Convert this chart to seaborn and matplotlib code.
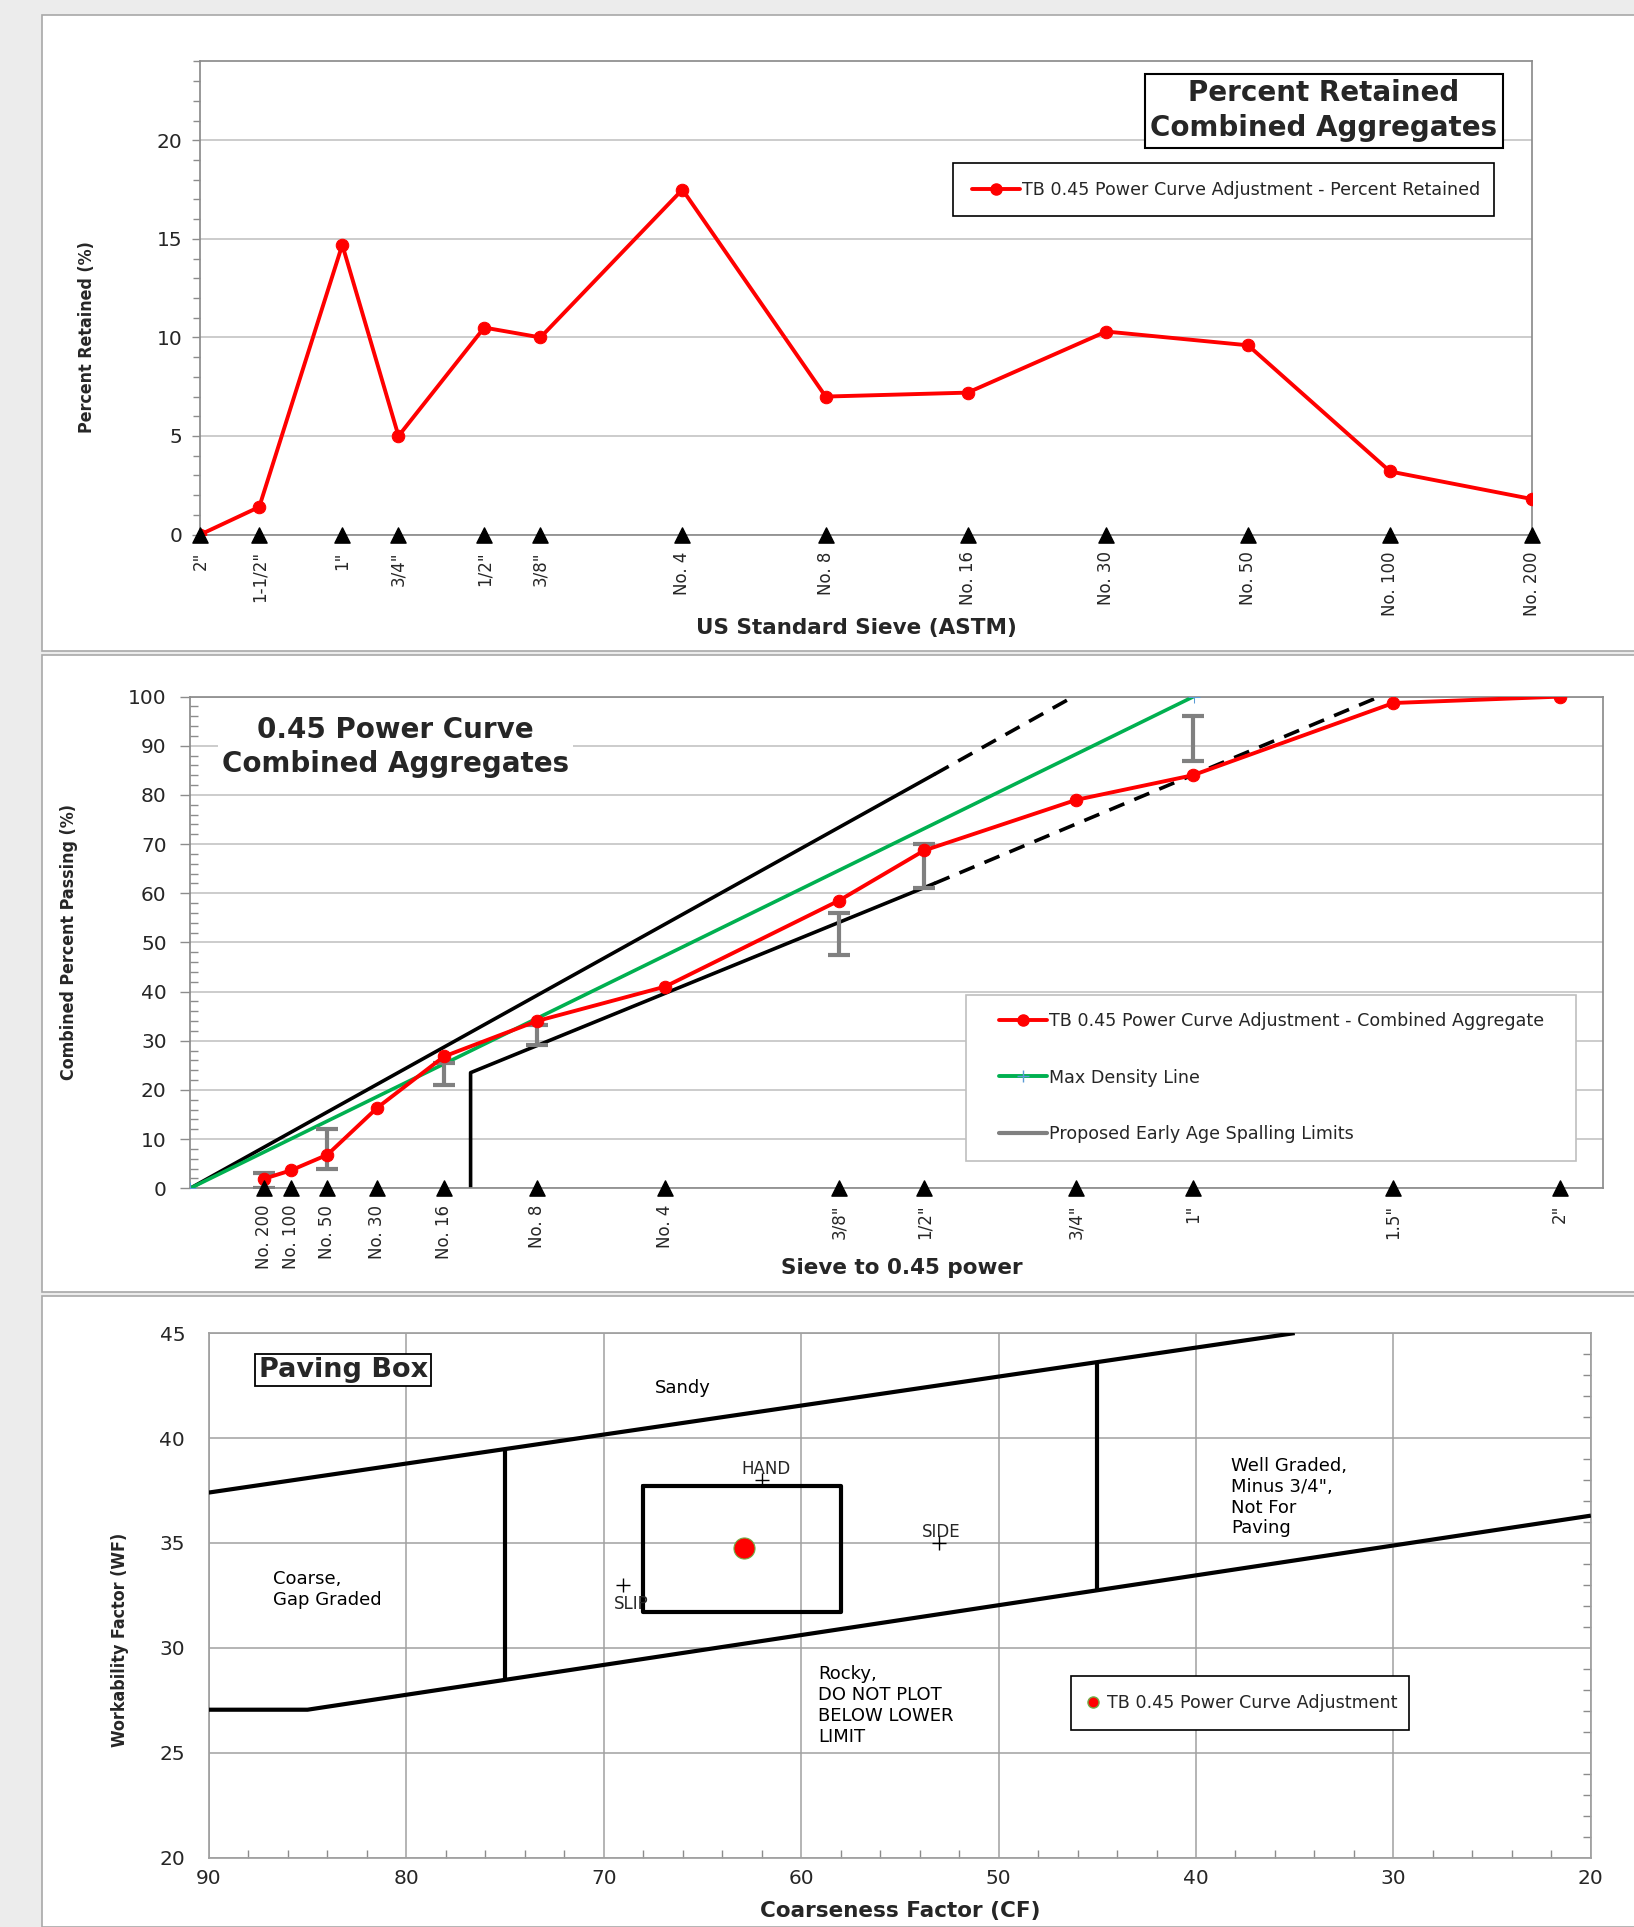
import matplotlib
matplotlib.use('Agg')
import matplotlib.pyplot as plt
import matplotlib.patches as mpatches
from matplotlib.lines import Line2D
from matplotlib.ticker import MultipleLocator, FixedLocator, NullLocator
import seaborn as sns

# ---- data ----
# sieves, coarse to fine
sieve_labels = ['2"', '1-1/2"', '1"', '3/4"', '1/2"', '3/8"', 'No. 4', 'No. 8',
                'No. 16', 'No. 30', 'No. 50', 'No. 100', 'No. 200']
sieve_labels_045 = ['2"', '1.5"', '1"', '3/4"', '1/2"', '3/8"', 'No. 4', 'No. 8',
                    'No. 16', 'No. 30', 'No. 50', 'No. 100', 'No. 200']
sieve_mm = [50, 37.5, 25, 19, 12.5, 9.5, 4.75, 2.36, 1.18, 0.6, 0.3, 0.15, 0.075]

pct_retained = [0.0, 1.4, 14.7, 5.0, 10.5, 10.0, 17.5, 7.0, 7.2, 10.3, 9.6, 3.2, 1.8]
pct_passing = [100.0, 98.7, 84.0, 79.0, 68.7, 58.5, 41.0, 34.0, 26.8, 16.4, 6.8, 3.6, 1.9]

# max density line (sieve^0.45 vs % passing)
max_density_x = [0.0, 4.26]
max_density_y = [0.0, 100.0]

# control lines on the 0.45 chart
upper_solid_x = [0.0, 3.16]
upper_solid_y = [0.0, 84.2]
upper_dash_x = [3.16, 3.75]
upper_dash_y = [84.2, 100.0]
lower_solid_x = [1.19, 1.19, 3.16]
lower_solid_y = [0.0, 23.5, 62.0]
lower_dash_x = [3.16, 5.05]
lower_dash_y = [62.0, 100.0]

# proposed early age spalling limits
spall_mm = [0.075, 0.3, 1.18, 2.36, 9.5, 12.5, 25]
spall_low = [0.0, 4.0, 21.0, 29.2, 47.5, 61.0, 87.0]
spall_high = [3.0, 12.0, 25.4, 33.2, 56.0, 70.0, 96.0]

# paving box (coarseness factor vs workability factor)
upper_trend_cf = [90, 35]
upper_trend_wf = [37.4, 45.0]
lower_trend_cf = [90, 85, 20]
lower_trend_wf = [27.05, 27.05, 36.3]
divider_cf = [75, 45]
divider_low = [28.45, 32.7]
divider_high = [39.45, 43.6]
box_cf = [68, 58, 58, 68, 68]
box_wf = [37.7, 37.7, 31.7, 31.7, 37.7]
method_names = ['HAND', 'SLIP', 'SIDE']
method_cf = [62, 69, 53]
method_wf = [38.0, 33.0, 35.0]
mix_cf = [62.9]
mix_wf = [34.75]

# ---- style ----
sns.set_theme(style='white')
plt.rcParams['font.family'] = ['DejaVu Sans']
YLAB = dict(fontsize=12.8, fontweight='bold', fontstretch='condensed')
XLAB = dict(fontsize=15.5, fontweight='bold')
GRID = '#c4c4c4'
SPINE = '#8c8c8c'
TICK = 14.5
ROT = 12


def legend_frame(ax, x0, y0, x1, y1, edge):
    # plain rectangular legend border in axes coords
    ax.add_patch(mpatches.Rectangle((x0, y0), x1 - x0, y1 - y0, transform=ax.transAxes,
                                    facecolor='white', edgecolor=edge, lw=1.2, zorder=7,
                                    clip_on=False))


fig = plt.figure(figsize=(16.34, 19.27), dpi=100, facecolor='#ececec')

# white panels like the spreadsheet chart areas
for y0, h in [(0.6622, 0.3302), (0.3293, 0.3308), (0.0, 0.3275)]:
    fig.add_artist(mpatches.Rectangle((0.0256, y0), 0.98, h, transform=fig.transFigure,
                                      facecolor='white', edgecolor='#a8a8a8', lw=1.2, zorder=-10))

# =============== chart 1: percent retained ===============
ax1 = fig.add_axes([0.1226, 0.7226, 0.815, 0.2455])
ax1.set_xscale('log')
sns.lineplot(x=sieve_mm, y=pct_retained, sort=False, color='red', lw=2.8,
             marker='o', markersize=9, markeredgecolor='red', ax=ax1, zorder=3)
ax1.scatter(sieve_mm, [0] * len(sieve_mm), marker='^', color='black', s=120,
            clip_on=False, zorder=4)
ax1.set_xlim(50, 0.075)
ax1.set_ylim(0, 24)
ax1.yaxis.set_major_locator(FixedLocator([0, 5, 10, 15, 20]))
ax1.yaxis.set_minor_locator(MultipleLocator(1))
ax1.set_xticks(sieve_mm)
ax1.set_xticklabels(sieve_labels, rotation=90, fontsize=ROT)
ax1.xaxis.set_minor_locator(NullLocator())
ax1.tick_params(axis='x', length=0, pad=12)
ax1.tick_params(axis='y', which='major', length=6, width=1, color=SPINE, labelsize=TICK, pad=7, left=True)
ax1.tick_params(axis='y', which='minor', length=5, width=1, color=SPINE, left=True)
ax1.grid(axis='y', which='major', color=GRID, lw=1.2)
for s in ax1.spines.values():
    s.set_color(SPINE)
ax1.set_ylabel('Percent Retained (%)', **YLAB)
ax1.yaxis.set_label_coords(-0.078, 0.418)
ax1.set_xlabel('US Standard Sieve (ASTM)', **XLAB)
ax1.xaxis.set_label_coords(0.4926, -0.176)
ax1.text(0.8435, 0.896, 'Percent Retained\nCombined Aggregates', transform=ax1.transAxes,
         ha='center', va='center', fontsize=20, fontweight='bold', linespacing=1.3,
         bbox=dict(boxstyle='square,pad=0.2', facecolor='white', edgecolor='black', lw=1.5))
legend_frame(ax1, 0.5655, 0.6728, 0.9714, 0.7844, 'black')
h1 = Line2D([], [], color='red', lw=2.8, marker='o', markersize=8)
ax1.legend([h1], ['TB 0.45 Power Curve Adjustment - Percent Retained'],
           loc='center left', bbox_to_anchor=(0.5793, 0.7286), borderaxespad=0, borderpad=0,
           fontsize=12.6, frameon=False, handlelength=2.75, handletextpad=0.1).set_zorder(8)

# =============== chart 2: 0.45 power curve ===============
ax2 = fig.add_axes([0.1165, 0.3834, 0.8647, 0.2551])
x045 = [v ** 0.45 for v in sieve_mm]
ax2.plot(upper_solid_x, upper_solid_y, color='black', lw=2.6, zorder=2)
ax2.plot(upper_dash_x, upper_dash_y, color='black', lw=2.6, ls=(0, (4.5, 3)), zorder=2)
ax2.plot(lower_solid_x, lower_solid_y, color='black', lw=2.6, zorder=2)
ax2.plot(lower_dash_x, lower_dash_y, color='black', lw=2.6, ls=(0, (4.5, 3)), zorder=2)
sns.lineplot(x=max_density_x, y=max_density_y, sort=False, color='#00b050', lw=2.6,
             marker='+', markersize=9, markeredgecolor='#5b9bd5', ax=ax2, zorder=3)
spall_x = [v ** 0.45 for v in spall_mm]
mid = [(a + b) / 2 for a, b in zip(spall_low, spall_high)]
err = [[m - a for m, a in zip(mid, spall_low)], [b - m for m, b in zip(mid, spall_high)]]
ax2.errorbar(spall_x, mid, yerr=err, fmt='none', ecolor='#808080', elinewidth=3,
             capsize=8, capthick=3, zorder=4)
sns.lineplot(x=x045, y=pct_passing, sort=False, color='red', lw=2.8, marker='o',
             markersize=9, markeredgecolor='red', ax=ax2, zorder=5)
ax2.scatter(x045, [0] * len(x045), marker='^', color='black', s=120, clip_on=False, zorder=6)
ax2.set_xlim(0, 6)
ax2.set_ylim(0, 100)
ax2.yaxis.set_major_locator(MultipleLocator(10))
ax2.yaxis.set_minor_locator(MultipleLocator(2))
ax2.set_xticks(x045)
ax2.set_xticklabels(sieve_labels_045, rotation=90, fontsize=ROT)
ax2.xaxis.set_minor_locator(NullLocator())
ax2.tick_params(axis='x', length=0, pad=12)
ax2.tick_params(axis='y', which='major', length=7, width=1, color=SPINE, labelsize=TICK,
                pad=10, left=True, direction='out')
ax2.tick_params(axis='y', which='minor', length=6, width=1, color=SPINE, left=True, direction='in')
ax2.grid(axis='y', which='major', color=GRID, lw=1.2)
for s in ax2.spines.values():
    s.set_color(SPINE)
ax2.set_ylabel('Combined Percent Passing (%)', **YLAB)
ax2.yaxis.set_label_coords(-0.0798, 0.5)
ax2.set_xlabel('Sieve to 0.45 power', **XLAB)
ax2.xaxis.set_label_coords(0.5035, -0.141)
ax2.text(0.1452, 0.8975, '0.45 Power Curve\nCombined Aggregates', transform=ax2.transAxes,
         ha='center', va='center', fontsize=20, fontweight='bold', linespacing=1.3, zorder=7,
         bbox=dict(boxstyle='square,pad=0.15', facecolor='white', edgecolor='none'))
legend_frame(ax2, 0.5487, 0.0551, 0.9809, 0.3925, '#bfbfbf')
h2a = Line2D([], [], color='red', lw=2.8, marker='o', markersize=8)
h2b = Line2D([], [], color='#00b050', lw=2.8, marker='+', markersize=9, markeredgecolor='#5b9bd5')
h2c = Line2D([], [], color='#808080', lw=3)
ax2.legend([h2a, h2b, h2c],
           ['TB 0.45 Power Curve Adjustment - Combined Aggregate', 'Max Density Line',
            'Proposed Early Age Spalling Limits'],
           loc='center left', bbox_to_anchor=(0.5722, 0.225), borderaxespad=0, borderpad=0,
           fontsize=12.6, frameon=False, labelspacing=2.2, handlelength=2.75,
           handletextpad=0.1).set_zorder(8)

# =============== chart 3: paving box ===============
ax3 = fig.add_axes([0.1278, 0.0360, 0.8458, 0.2722])
lk = dict(color='black', lw=3, solid_capstyle='butt', zorder=3)
ax3.plot(upper_trend_cf, upper_trend_wf, **lk)
ax3.plot(lower_trend_cf, lower_trend_wf, **lk)
for c, lo, hi in zip(divider_cf, divider_low, divider_high):
    ax3.plot([c, c], [lo, hi], **lk)
ax3.plot(box_cf, box_wf, color='black', lw=3, zorder=3)
ax3.scatter(method_cf, method_wf, marker='+', color='black', s=110, lw=1.0, zorder=4)
sns.scatterplot(x=mix_cf, y=mix_wf, s=230, color='red', edgecolor='#70ad47', linewidth=0.8,
                ax=ax3, zorder=5, legend=False)
ax3.set_xlim(90, 20)
ax3.set_ylim(20, 45)
ax3.xaxis.set_major_locator(MultipleLocator(10))
ax3.xaxis.set_minor_locator(MultipleLocator(2))
ax3.yaxis.set_major_locator(MultipleLocator(5))
ax3.yaxis.set_minor_locator(MultipleLocator(1))
ax3.grid(which='major', color='#a0a0a0', lw=1.1)
ax3.tick_params(which='major', length=0, labelsize=TICK)
ax3.tick_params(axis='x', which='major', pad=8)
ax3.tick_params(axis='y', which='major', pad=17)
ax3.tick_params(axis='x', which='minor', bottom=True, direction='in', length=6, color=SPINE)
ax3.tick_params(axis='y', which='minor', left=False, right=True, direction='in', length=6, color=SPINE)
for s in ax3.spines.values():
    s.set_color('#a0a0a0')
ax3.set_ylabel('Workability Factor (WF)', **YLAB)
ax3.yaxis.set_label_coords(-0.0578, 0.4145)
ax3.set_xlabel('Coarseness Factor (CF)', **XLAB)
ax3.xaxis.set_label_coords(0.5005, -0.082)

tk = dict(fontsize=13, color='black', zorder=6)
ax3.text(66.0, 42.37, 'Sandy', ha='center', va='center', **tk)
ax3.text(86.76, 32.79, 'Coarse,\nGap Graded', ha='left', va='center', linespacing=1.2, **tk)
ax3.text(38.23, 37.18, 'Well Graded,\nMinus 3/4",\nNot For\nPaving', ha='left', va='center',
         linespacing=1.2, **tk)
ax3.text(59.13, 27.26, 'Rocky,\nDO NOT PLOT\nBELOW LOWER\nLIMIT', ha='left', va='center',
         linespacing=1.2, **tk)
ax3.text(61.8, 38.5, method_names[0], ha='center', va='center', fontsize=12)
ax3.text(69.5, 32.1, method_names[1], ha='left', va='center', fontsize=12)
ax3.text(52.9, 35.5, method_names[2], ha='center', va='center', fontsize=12)
ax3.text(83.2, 43.24, 'Paving Box', ha='center', va='center', fontsize=19.5, fontweight='bold',
         bbox=dict(boxstyle='square,pad=0.12', facecolor='white', edgecolor='black', lw=1.3))
legend_frame(ax3, 0.624, 0.2434, 0.8685, 0.3466, 'black')
h3 = Line2D([], [], color='none', marker='o', markersize=8, markerfacecolor='red',
            markeredgecolor='#70ad47')
ax3.legend([h3], ['TB 0.45 Power Curve Adjustment'], loc='center left',
           bbox_to_anchor=(0.6348, 0.2951), borderaxespad=0, borderpad=0, fontsize=12.6,
           frameon=False, handlelength=0.8, handletextpad=0.4).set_zorder(8)

fig.savefig('out.png', dpi=100, facecolor=fig.get_facecolor())
